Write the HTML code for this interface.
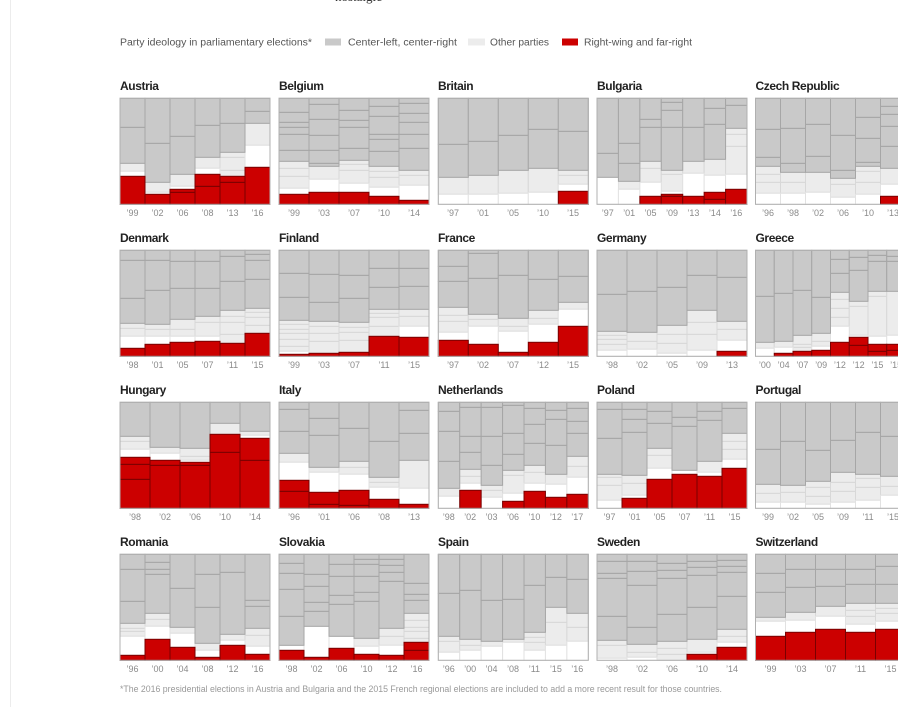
<!DOCTYPE html>
<html><head><meta charset="utf-8">
<style>
html,body{margin:0;padding:0;background:#fff;width:898px;height:707px;overflow:hidden;position:relative;font-family:"Liberation Sans",Arial,sans-serif}
.ttl{position:absolute;font-weight:bold;font-size:12px;line-height:14px;color:#222;letter-spacing:-0.4px;white-space:nowrap}
.tk{position:absolute;width:150px;display:flex;font-size:9px;line-height:10px;color:#8a8a8a}
.tk span{flex:1;text-align:center}
svg{position:absolute;left:0;top:0}
#bars{position:absolute;left:0;top:0;width:898px;height:707px}
</style></head><body>
<div style="position:absolute;left:10px;top:0;width:1px;height:707px;background:#ececec"></div>
<svg width="898" height="707">
<text x="335" y="1" font-family="Liberation Serif, serif" font-size="13" fill="#333">nostalgic</text>
<text x="120" y="45.5" font-size="10" fill="#555" textLength="192" lengthAdjust="spacingAndGlyphs" font-family="Liberation Sans, sans-serif">Party ideology in parliamentary elections*</text>
<rect x="325" y="38.5" width="16" height="7" fill="#c9c9c9"/>
<text x="348" y="45.5" font-size="10" fill="#555" textLength="109" lengthAdjust="spacingAndGlyphs" font-family="Liberation Sans, sans-serif">Center-left, center-right</text>
<rect x="468" y="38.5" width="17" height="7" fill="#ececec"/>
<text x="490" y="45.5" font-size="10" fill="#555" textLength="59" lengthAdjust="spacingAndGlyphs" font-family="Liberation Sans, sans-serif">Other parties</text>
<rect x="562" y="38.5" width="16" height="7" fill="#cc0000"/>
<text x="584" y="45.5" font-size="10" fill="#555" textLength="108" lengthAdjust="spacingAndGlyphs" font-family="Liberation Sans, sans-serif">Right-wing and far-right</text>
<text x="120" y="692" font-size="9" fill="#999" textLength="602" lengthAdjust="spacingAndGlyphs" font-family="Liberation Sans, sans-serif">*The 2016 presidential elections in Austria and Bulgaria and the 2015 French regional elections are included to add a more recent result for those countries.</text>
</svg>
<div id="bars"></div>

<div class="ttl" style="left:120px;top:79px">Austria</div>
<div class="ttl" style="left:279px;top:79px">Belgium</div>
<div class="ttl" style="left:438px;top:79px">Britain</div>
<div class="ttl" style="left:597px;top:79px">Bulgaria</div>
<div class="ttl" style="left:755.5px;top:79px">Czech Republic</div>
<div class="ttl" style="left:120px;top:231px">Denmark</div>
<div class="ttl" style="left:279px;top:231px">Finland</div>
<div class="ttl" style="left:438px;top:231px">France</div>
<div class="ttl" style="left:597px;top:231px">Germany</div>
<div class="ttl" style="left:755.5px;top:231px">Greece</div>
<div class="ttl" style="left:120px;top:383px">Hungary</div>
<div class="ttl" style="left:279px;top:383px">Italy</div>
<div class="ttl" style="left:438px;top:383px">Netherlands</div>
<div class="ttl" style="left:597px;top:383px">Poland</div>
<div class="ttl" style="left:755.5px;top:383px">Portugal</div>
<div class="ttl" style="left:120px;top:535px">Romania</div>
<div class="ttl" style="left:279px;top:535px">Slovakia</div>
<div class="ttl" style="left:438px;top:535px">Spain</div>
<div class="ttl" style="left:597px;top:535px">Sweden</div>
<div class="ttl" style="left:755.5px;top:535px">Switzerland</div>

<div class="tk" style="left:120px;top:208px"><span>’99</span><span>’02</span><span>’06</span><span>’08</span><span>’13</span><span>’16</span></div>
<div class="tk" style="left:279px;top:208px"><span>’99</span><span>’03</span><span>’07</span><span>’10</span><span>’14</span></div>
<div class="tk" style="left:438px;top:208px"><span>’97</span><span>’01</span><span>’05</span><span>’10</span><span>’15</span></div>
<div class="tk" style="left:597px;top:208px"><span>’97</span><span>’01</span><span>’05</span><span>’09</span><span>’13</span><span>’14</span><span>’16</span></div>
<div class="tk" style="left:755.5px;top:208px"><span>’96</span><span>’98</span><span>’02</span><span>’06</span><span>’10</span><span>’13</span></div>

<div class="tk" style="left:120px;top:360px"><span>’98</span><span>’01</span><span>’05</span><span>’07</span><span>’11</span><span>’15</span></div>
<div class="tk" style="left:279px;top:360px"><span>’99</span><span>’03</span><span>’07</span><span>’11</span><span>’15</span></div>
<div class="tk" style="left:438px;top:360px"><span>’97</span><span>’02</span><span>’07</span><span>’12</span><span>’15</span></div>
<div class="tk" style="left:597px;top:360px"><span>’98</span><span>’02</span><span>’05</span><span>’09</span><span>’13</span></div>
<div class="tk" style="left:755.5px;top:360px"><span>’00</span><span>’04</span><span>’07</span><span>’09</span><span>’12</span><span>’12</span><span>’15</span><span>’15</span></div>

<div class="tk" style="left:120px;top:512px"><span>’98</span><span>’02</span><span>’06</span><span>’10</span><span>’14</span></div>
<div class="tk" style="left:279px;top:512px"><span>’96</span><span>’01</span><span>’06</span><span>’08</span><span>’13</span></div>
<div class="tk" style="left:438px;top:512px"><span>’98</span><span>’02</span><span>’03</span><span>’06</span><span>’10</span><span>’12</span><span>’17</span></div>
<div class="tk" style="left:597px;top:512px"><span>’97</span><span>’01</span><span>’05</span><span>’07</span><span>’11</span><span>’15</span></div>
<div class="tk" style="left:755.5px;top:512px"><span>’99</span><span>’02</span><span>’05</span><span>’09</span><span>’11</span><span>’15</span></div>

<div class="tk" style="left:120px;top:664px"><span>’96</span><span>’00</span><span>’04</span><span>’08</span><span>’12</span><span>’16</span></div>
<div class="tk" style="left:279px;top:664px"><span>’98</span><span>’02</span><span>’06</span><span>’10</span><span>’12</span><span>’16</span></div>
<div class="tk" style="left:438px;top:664px"><span>’96</span><span>’00</span><span>’04</span><span>’08</span><span>’11</span><span>’15</span><span>’16</span></div>
<div class="tk" style="left:597px;top:664px"><span>’98</span><span>’02</span><span>’06</span><span>’10</span><span>’14</span></div>
<div class="tk" style="left:755.5px;top:664px"><span>’99</span><span>’03</span><span>’07</span><span>’11</span><span>’15</span></div>

<script>
var D=[
["r28 w5 l8 g36","r10 w2 l10 g39","r12 r3 w3 l12 g38","r18 r12 w6 l11 g32","r22 r6 l6 l13 l5 g29","r37 w22 l22 g12"],
["r10 w6 l12 l8 l7 g11 g16 g7 g5 g10","r12 w13 l13 g3 g13 g15 g16 g15","r12 w9 l13 l6 l4 g12 g21 g7 g10","r8 w9 l10 l6 l5 g15 g12 g5 g18 g10","r4 w15 l10 l5 g22 g14 g12 g9 g10"],
["w10 l17 g33","w10 l19 g34","w11 l23 g35","w12 l24 g39","r13 w7 l9 l5 g39"],
["w27 g24","w15 l8 g18 g20","r8 w14 l14 l7 g34 g8","r8 r2 w3 l17 l4 g43 g17 g8","r8 w23 l12 g34","r5 r7 w17 l16 g35 g16","r15 w15 l28 l12 l6 g23"],
["w11 l11 l8 l8 g9 g28","w11 l11 l10 g9 g35","w12 l20 g16 g32","w7 l13 l6 g8 g35","w10 l12 l11 l5 g4 g24 g21","r8 w12 l16 g22 g20 g12 g8"],
["r8 w12 l8 l5 g25 g38","r12 w8 l7 l5 g34 g30","r14 w6 l7 l10 g31 g27","r15 w5 l14 l6 g28 g27","r13 l9 l12 l6 l6 g29 g25","r23 l8 l8 l5 l4 g29 g19 g6"],
["r2 w3 l5 l7 l6 l4 l5 l4 g23 g24","r3 l12 l8 l7 l5 g19 g28","r4 l12 l8 l5 l5 g24 g23","r20 l10 l9 l4 l4 g22 g19","r19 w11 l10 l7 g23 g18"],
["r16 w8 l11 l6 l8 g26 g15","r12 w18 l7 l5 g36 g25","r4 w21 l5 l8 g43","r14 w18 l6 l8 g31","r30 w17 l7 g26"],
["w6 l6 l5 l4 l4 g37","w7 l8 l9 g41","w3 l10 l9 l9 g38","w6 l16 l12 l12 g35","r5 w11 l11 l8 g44"],
["w8 l6 g46","r3 w6 l6 g48","r5 l4 l3 l9 g45","r6 w4 l5 l8 g36","r14 w16 l9 l9 l9 l7 g19 g14","r11 r8 w2 l29 l5 g31 g13","r5 r7 w8 l40 l5 g30 g6","r6 r6 w9 l44 g30 g5"],
["r29 r15 r7 w8 l8 l5","r43 r5 w7 l6","r43 r3 w2 l4 l8","r56 r18 l11","r48 r22 w3 l4"],
["r17 r11 w18 l9 g22 g22","r4 r12 w20 l5 g32 g17","r3 r15 w16 l7 l6 g33","r9 w12 l5 l5 g36","r4 w16 l28 g27 g23"],
["w12 l8 g27 g30 g20","r18 w7 l7 l7 g17 g16 g29","w11 l7 l5 g20 g29 g29","r7 w8 l18 l5 g16 g21 g28","r17 w8 l11 l7 g22 g19 g16","r11 w13 l10 g29 g26 g9","r14 w17 l11 l10 g23 g12 g13"],
["w8 l15 l8 l3 g36 g29","r10 w3 l12 l8 g43 g13 g10","r29 w11 l13 l7 g25 g12","r34 w4 g44 g9","r32 w4 l11 g41 g9","r40 w9 l10 l8 l8 g25"],
["w6 l9 l9 g35","w6 l10 l7 g44","w4 l8 l9 l6 g31","w6 l11 l9 l10 g32","w8 l13 l9 l4 g42","w13 l9 l10 g40"],
["r5 w19 l5 l3 l5 g22 g32","r21 w13 l7 l6 g39 g5 g7","r13 w14 l6 g39","r3 w7 l7 g36 g33","r15 w5 l6 g62","r6 w8 l11 l7 g22 g6"],
["r10 w5 g29 g27 g16 g10","r3 w31 g15 g9 g16 g12","r12 w12 g32 g9 g19 g12","r6 w8 l8 g37 g9 g16 g12 g5","r5 w10 l9 l8 g47 g9 g7 g6","r10 r8 l4 l7 l4 l7 l7 g13 g6 g11"],
["w8 l11 l5 g43","w10 l5 l6 g49","w14 l5 g41","w18 l3 g40","w10 l8 l5 l5 g47","w15 l23 l15 g30","w19 l14 l14 g34"],
["w2 l13 l5 g24 g38 g5 g12","w3 l5 l8 g17 g42 g14 g10","l6 l6 l7 g27 g36 g8 g7","r6 w2 l13 g32 g32 g8 g6","r13 w5 l6 l7 g33 g24 g6 g6"],
["r24 w15 l4 g25 g19","r28 w12 l8 g25 g18","r31 w13 l10 g20 g17","r28 w8 l8 l6 l7 g19 g15","r31 w8 l8 l5 l5 g19 g18"]
];
var cols=[120,279,438.3,597,755.5], rows=[98.3,250.3,402.3,554.3], W=150, H=106;
var C={g:['#c9c9c9','#a6a6a6'],l:['#ececec','#d8d8d8'],w:['#ffffff','#e2e2e2'],r:['#cc0000','#7a0000']};
var out={l:'',w:'',g:'',r:''}, brd='';
function R(x,y,w,h,t){return '<rect x="'+x.toFixed(2)+'" y="'+y.toFixed(2)+'" width="'+w.toFixed(2)+'" height="'+h.toFixed(2)+'" fill="'+C[t][0]+'" stroke="'+C[t][1]+'" stroke-width="1"/>';}
D.forEach(function(p,pi){
  var x0=cols[pi%5], y0=rows[Math.floor(pi/5)], n=p.length, bw=W/n;
  p.forEach(function(s,bi){
    var x=x0+bi*bw, y=y0+H, used=0;
    s.split(' ').forEach(function(tk){
      var t=tk[0], h=+tk.slice(1);
      if(used+h>H) h=H-used;
      if(h<=0) return;
      y-=h; used+=h;
      out[t]+=R(x,y,bw,h,t);
    });
    if(used<H){ out.g+=R(x,y0,bw,H-used,'g'); }
  });
  brd+='<rect x="'+x0+'" y="'+y0+'" width="'+W+'" height="'+H+'" fill="none" stroke="#b0b0b0" stroke-width="1"/>';
});
document.getElementById('bars').innerHTML='<svg width="898" height="707">'+out.l+out.w+out.g+out.r+brd+'</svg>';
</script>
</body></html>
